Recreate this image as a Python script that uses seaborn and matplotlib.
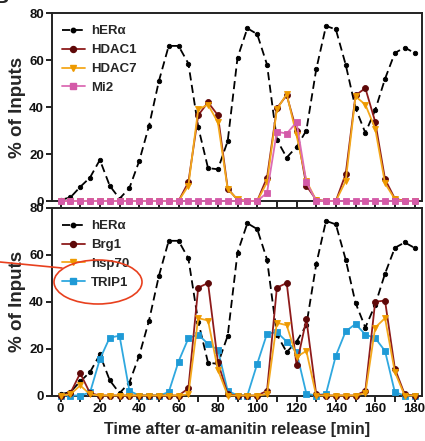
import matplotlib
matplotlib.use("Agg")
import matplotlib.pyplot as plt
from matplotlib.patches import Ellipse
from matplotlib.lines import Line2D
import seaborn as sns
import pandas as pd

# time points (min after alpha-amanitin release)
time = list(range(0, 181, 5))

# shared estrogen receptor curve (same in both panels)
her_alpha = [0.5, 1.5, 6, 10, 17.5, 6.5, 1, 5.5, 17, 32, 51, 66, 66, 58.5, 31.5, 14, 13.5, 25.5, 61,
             73.5, 71, 58, 26, 18.5, 23, 30, 56, 74.5, 73, 58, 39.5, 29, 38.7, 52, 63, 65.3, 63]

# top panel
hdac1 = [0, 0, 0, 0, 0, 0, 0, 0, 0, 0, 0, 0, 0, 8, 36.5, 42, 36.5, 5.3, 0.5,
         0, 0, 10, 39.5, 45, 30, 6.5, 0.5, 0, 0, 11.5, 45, 48, 33.7, 9.3, 1, 0, 0]
hdac7 = [0, 0, 0, 0, 0, 0, 0, 0, 0, 0, 0, 0, 0, 6.5, 39, 41, 33.5, 5, 0.7,
         0, 0, 8, 39, 45.5, 28, 8.5, 0.3, 0, 0, 8.5, 44.5, 41, 30.8, 7.5, 0.8, 0, 0]
mi2 = [0, 0, 0, 0, 0, 0, 0, 0, 0, 0, 0, 0, 0, 0, 0, 0, 0, 0, 0,
       0, 0, 3.5, 29.5, 28.7, 33.5, 8, 0, 0, 0, 0, 0, 0, 0, 0, 0, 0, 0]

# bottom panel
brg1 = [0, 1, 9.5, 1, 0, 0, 0, 0, 0, 0, 0, 0, 0, 3, 46, 48, 14.3, 0.5, 0,
        0, 0, 2, 46, 48, 13, 32.5, 0.5, 0, 0, 0, 0, 2, 40, 40.5, 11.5, 0.5, 0]
hsp70 = [0, 0.5, 4.3, 0.5, 0, 0, 0, 0, 0, 0, 0, 0, 0, 0.5, 33, 32, 11, 0, 0,
         0, 0, 0.5, 31, 30, 16.5, 19, 0, 0, 0, 0, 0, 1, 29, 33, 10, 0, 0]
trip1 = [0, 0, 0, 1.3, 15.5, 24.7, 25.5, 2, 0, 0, 0, 1.4, 14.5, 24.4, 26, 22, 19.5, 2, 0,
         0, 13.5, 26.4, 27, 23, 18.5, 0.8, 0, 0.8, 17, 27.4, 30.5, 26, 24.5, 19, 1.4, 0, 0]

top_series = [("hERα", her_alpha), ("HDAC1", hdac1), ("HDAC7", hdac7), ("Mi2", mi2)]
bottom_series = [("hERα", her_alpha), ("TRIP1", trip1), ("Brg1", brg1), ("hsp70", hsp70)]
legend_top = ["hERα", "HDAC1", "HDAC7", "Mi2"]
legend_bottom = ["hERα", "Brg1", "hsp70", "TRIP1"]

styles = {
    "hERα": dict(color="black", marker="o", ms=3.2, mfc="black", mec="black", ls=(0, (4.5, 2.5)), lw=1.3),
    "HDAC1": dict(color="#8e1b1b", marker="o", ms=4.3, mfc="#5e0808", mec="#5e0808", ls="-", lw=1.3),
    "Brg1": dict(color="#8e1b1b", marker="o", ms=4.3, mfc="#5e0808", mec="#5e0808", ls="-", lw=1.3),
    "HDAC7": dict(color="#f4a81c", marker="v", ms=4.8, mfc="#ee9a00", mec="#ee9a00", ls="-", lw=1.3),
    "hsp70": dict(color="#f4a81c", marker="v", ms=4.8, mfc="#ee9a00", mec="#ee9a00", ls="-", lw=1.3),
    "Mi2": dict(color="#dc6cb4", marker="s", ms=3.8, mfc="#d45aa8", mec="#d45aa8", ls="-", lw=1.3),
    "TRIP1": dict(color="#2fa8df", marker="s", ms=3.8, mfc="#1f9ad6", mec="#1f9ad6", ls="-", lw=1.3),
}

sns.set_theme(style="ticks")
plt.rcParams['font.family'] = ['Liberation Sans', 'DejaVu Sans']
plt.rcParams['font.weight'] = 'bold'

W, H = 425, 441
fig = plt.figure(figsize=(W / 100, H / 100), dpi=100)
left, right = 51.5, 422
ax_top = fig.add_axes([left / W, 1 - 201 / H, (right - left) / W, (201 - 13) / H])
ax_bot = fig.add_axes([left / W, 1 - 395.5 / H, (right - left) / W, (395.5 - 208) / H])


def draw_panel(ax, series, legend_order):
    for name, vals in series:
        st = styles[name]
        df = pd.DataFrame({"time": time, "value": vals})
        sns.lineplot(data=df, x="time", y="value", ax=ax, color=st["color"], marker=st["marker"],
                     markersize=st["ms"], markerfacecolor=st["mfc"], markeredgecolor=st["mec"],
                     markeredgewidth=0.6, linestyle=st["ls"], linewidth=st["lw"], clip_on=False,
                     legend=False, zorder=3)
    ax.set_xlim(-4.6, 183.8)
    ax.set_ylim(0, 80)
    ax.set_yticks([0, 20, 40, 60, 80])
    ax.set_xticks(range(0, 181, 20))
    ax.set_xticks(range(10, 181, 20), minor=True)
    for s in ax.spines.values():
        s.set_linewidth(1.4)
        s.set_color("#222222")
    ax.tick_params(axis="both", which="both", direction="out", length=4, width=1.3, pad=1.5,
                   labelsize=9.5, colors="#111111")
    ax.set_ylabel("% of Inputs", fontsize=13.5, fontweight="bold", labelpad=2.5)
    ax.set_xlabel("")
    handles = []
    for name in legend_order:
        st = styles[name]
        handles.append(Line2D([], [], color=st["color"], marker=st["marker"], markersize=st["ms"],
                              markerfacecolor=st["mfc"], markeredgecolor=st["mec"],
                              linestyle=st["ls"], linewidth=st["lw"]))
    ax.legend(handles, legend_order, loc="upper left", bbox_to_anchor=(0.028, 0.935), frameon=False,
              borderpad=0, borderaxespad=0, handlelength=1.75, handletextpad=0.45, labelspacing=0.5,
              prop={"weight": "bold", "size": 9.5})


draw_panel(ax_top, top_series, legend_top)
draw_panel(ax_bot, bottom_series, legend_bottom)

ax_top.tick_params(axis="x", which="both", labelbottom=False)
ax_bot.tick_params(axis="x", which="minor", labelbottom=False)
ax_bot.set_xlabel("Time after α-amanitin release [min]", fontsize=11.5, fontweight="bold", labelpad=5)

# red hand-drawn style annotation around TRIP1
red = "#e8401e"
fig.patches.append(Ellipse((98 / W, 1 - 282 / H), 88 / W, 44 / H, transform=fig.transFigure,
                           fill=False, edgecolor=red, linewidth=1.2, zorder=10))
fig.lines.append(Line2D([0, 62 / W], [1 - 262 / H, 1 - 268 / H], transform=fig.transFigure,
                        color=red, linewidth=1.2, zorder=10))

# cut-off panel letter in the corner
fig.text(9 / W, 1 - 3 / H, "B", fontsize=15, fontweight="bold", ha="right", va="baseline")

fig.savefig("out.png", dpi=100)
